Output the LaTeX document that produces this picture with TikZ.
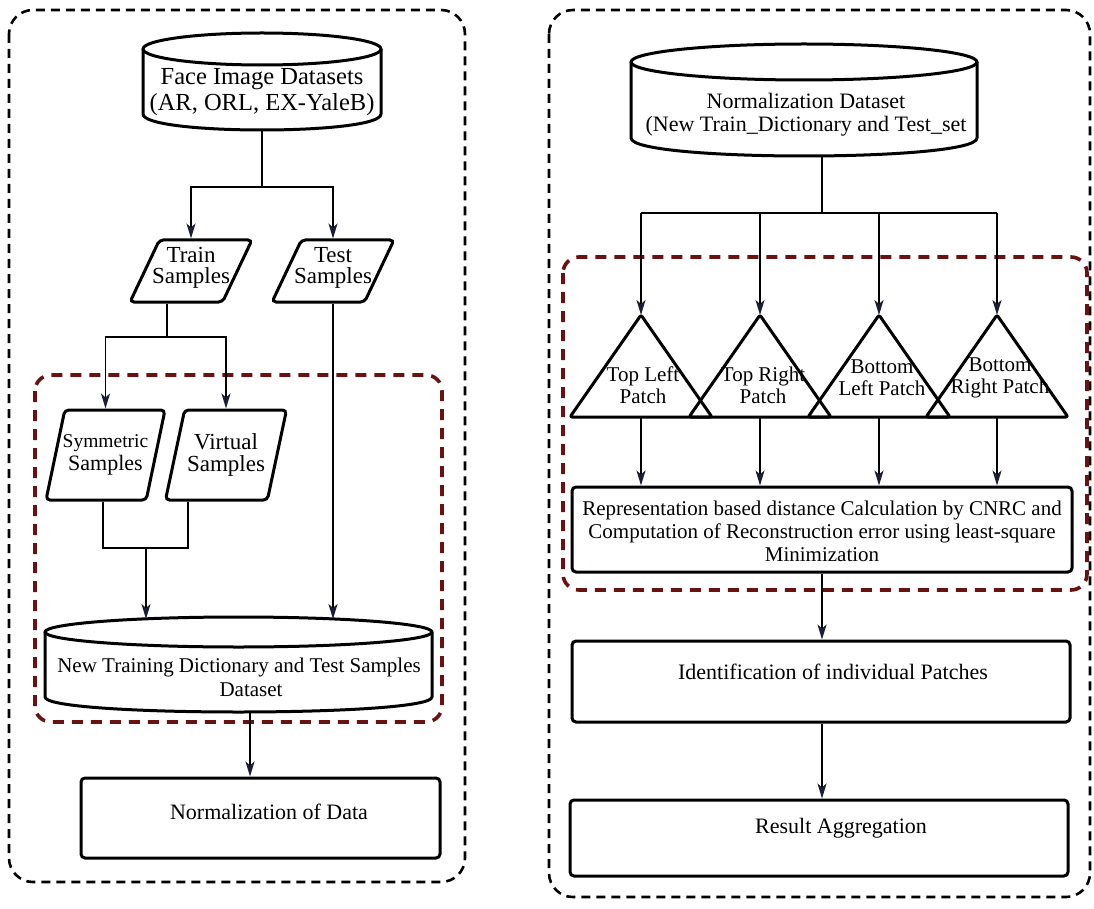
\documentclass[tikz,border=0pt]{standalone}
\usepackage{fontspec}
\setmainfont{Liberation Serif}
\usetikzlibrary{arrows.meta,shapes.geometric,calc}
\definecolor{darkred}{HTML}{6A1212}
\definecolor{arrowc}{HTML}{1A1E35}
\newcommand\drawcyl[3]{%
  \draw[shapeline] ($(#1.north)+(0,#3)$) ellipse [x radius=#2pt, y radius=#3pt];
  \draw[shapeline] ($(#1.north west)+(0,#3)$) -- ($(#1.south west)+(0,-#3)$)
     .. controls ($(#1.south west)+(0,#3/3)$) and ($(#1.south east)+(0,#3/3)$) ..
     ($(#1.south east)+(0,-#3)$) -- ($(#1.north east)+(0,#3)$);}
\newcommand\drawtri[1]{%
  \draw[shapeline,rounded corners=2pt] (#1.north) -- (#1.south east) -- (#1.south west) -- cycle;}
\begin{document}
\begin{tikzpicture}[x=1pt,y=-1pt,
  outerbox/.style={draw=black,line width=2.6pt,dash pattern=on 9pt off 6pt,rounded corners=24pt},
  redbox/.style={draw=darkred,line width=3.6pt,dash pattern=on 11pt off 8pt,rounded corners=16pt},
  shapeline/.style={draw=black,line width=3pt,line join=round},
  holder/.style={inner sep=0pt,outer sep=0pt,minimum width=#1},
  conn/.style={draw=black,line width=1.9pt},
  arr/.style={conn,-{Stealth[length=15pt,width=9pt,inset=4pt,color=arrowc]}},
  txt/.style={align=center,inner sep=0pt,font=\fontsize{22}{23}\selectfont},
  para/.style={trapezium,trapezium stretches=true,draw=black,line width=3pt,rounded corners=4pt,inner sep=3pt},
  procbox/.style={draw=black,line width=3pt,rounded corners=4pt,inner sep=0pt}
]
\fill[white] (0,0) rectangle (1094,909);
\useasboundingbox (0,0) rectangle (1094,909);

% panels
\draw[outerbox] (9,10) rectangle (465,882);
\draw[outerbox] (549,10) rectangle (1090,897);
\draw[redbox] (35,375) rectangle (442,722);
\draw[redbox] (563,257) rectangle (1087,590);

% ---------- left ----------
\node[holder=238pt,minimum height=97pt] (face) at (262,81.5) {};
\drawcyl{face}{119}{16}
\node[txt,font=\fontsize{24.5}{26}\selectfont] (facetxt) at (262,92) {Face Image Datasets\\(AR, ORL, EX-YaleB)};

\node[para,trapezium left angle=65,trapezium right angle=115,minimum width=122pt,minimum height=62pt] (train) at (191,271) {};
\node[txt,font=\fontsize{23}{21}\selectfont] (traintxt) at (191,268) {Train\\Samples};
\node[para,trapezium left angle=65,trapezium right angle=115,minimum width=122pt,minimum height=62pt] (test) at (333,271) {};
\node[txt,font=\fontsize{23}{21}\selectfont] (testtxt) at (333,268) {Test\\Samples};

\node[para,trapezium left angle=77,trapezium right angle=103,minimum width=119pt,minimum height=90pt] (sym) at (105.5,455) {};
\node[txt] (symtxt) at (105.5,455) {{\fontsize{19.5}{21}\selectfont Symmetric}\\{\fontsize{22}{22}\selectfont Samples}};
\node[para,trapezium left angle=77,trapezium right angle=103,minimum width=121pt,minimum height=90pt] (vir) at (226,455) {};
\node[txt,font=\fontsize{23}{22}\selectfont] (virtxt) at (226,455) {Virtual\\Samples};

\node[holder=387pt,minimum height=95pt] (ntd) at (238.5,664.5) {};
\drawcyl{ntd}{193.5}{15}
\node[txt,font=\fontsize{21}{24}\selectfont] (ntdtxt) at (239,677) {New Training Dictionary and Test Samples\\\hspace*{24pt}Dataset};

\node[procbox,minimum width=359pt,minimum height=80pt] (normd) at (260.5,818) {};
\node[txt] (normdtxt) at (269,812) {Normalization of Data};

% left connectors
\coordinate (fsplit) at (262,187);
\draw[conn] (face.south) -- (fsplit);
\draw[arr] (fsplit) -| (train.north);
\draw[arr] (fsplit) -| (test.north);

\coordinate (tsplit) at (167,337);
\draw[conn] (train.south -| tsplit) -- (tsplit);
\draw[arr] (tsplit) -| (sym.north);
\draw[arr] (tsplit) -| (vir.north);

\coordinate (svjoin) at (146,548);
\coordinate (symout) at ($(sym.south)+(-2.5,0)$);
\coordinate (virout) at ($(vir.south)+(-38,0)$);
\draw[conn] (symout) |- (virout |- svjoin) -- (virout);
\draw[arr] (svjoin) -- ($(svjoin |- ntd.north)+(0,2)$);
\draw[arr] (test.south) -- ($(test.south |- ntd.north)+(0,2)$);

\coordinate (ntdout) at ($(ntd.south)+(11.5,0)$);
\draw[arr] (ntdout) -- (ntdout |- normd.north);

% ---------- right ----------
\node[holder=346pt,minimum height=112pt] (ncyl) at (804,100) {};
\drawcyl{ncyl}{173}{18}
\node[txt] (ncyltxt) at (806,115) {Normalization Dataset\\(New Train\_Dictionary and Test\_set};

\node[holder=142pt,minimum height=102pt] (tl) at (641,366) {};
\node[holder=142pt,minimum height=102pt] (tr) at (760,366) {};
\node[holder=142pt,minimum height=102pt] (bl) at (879,366) {};
\node[holder=142pt,minimum height=102pt] (br) at (997,366) {};
\drawtri{tl}\drawtri{tr}\drawtri{bl}\drawtri{br}
\node[txt,font=\fontsize{21}{22}\selectfont] (tltxt) at (643,385) {Top Left\\Patch};
\node[txt,font=\fontsize{21}{22}\selectfont] (trtxt) at (763,385) {Top Right\\Patch};
\node[txt,font=\fontsize{21}{22}\selectfont] (bltxt) at (882,378) {Bottom\\Left Patch};
\node[txt,font=\fontsize{21}{22}\selectfont] (brtxt) at (1000,378) {Bottom\\Right Patch};

\node[procbox,minimum width=500pt,minimum height=85pt] (rep) at (822,529.5) {};
\node[txt,font=\fontsize{21}{23}\selectfont] (reptxt) at (822,531) {Representation based distance Calculation by CNRC and\\Computation of Reconstruction error using least-square\\Minimization};

\node[procbox,minimum width=498pt,minimum height=81pt] (ident) at (821,681.5) {};
\node[txt] (identtxt) at (833,672) {Identification of individual Patches};

\node[procbox,minimum width=498pt,minimum height=76pt] (res) at (819,838) {};
\node[txt] (restxt) at (841,828) {Result Aggregation};

% right connectors
\coordinate (nsplit) at (822,213);
\draw[conn] (ncyl.south -| nsplit) -- (nsplit);
\draw[conn] (tl.north |- nsplit) -- (br.north |- nsplit);
\foreach \t in {tl,tr,bl,br}{
  \draw[arr] (\t.north |- nsplit) -- (\t.north);
  \draw[arr] (\t.north |- \t.south) -- (\t.north |- rep.north);
}
\coordinate (repout) at (rep.south);
\draw[arr] (repout) -- (repout |- ident.north);
\coordinate (identout) at (rep.south |- ident.south);
\draw[arr] (identout) -- (identout |- res.north);
\end{tikzpicture}
\end{document}
